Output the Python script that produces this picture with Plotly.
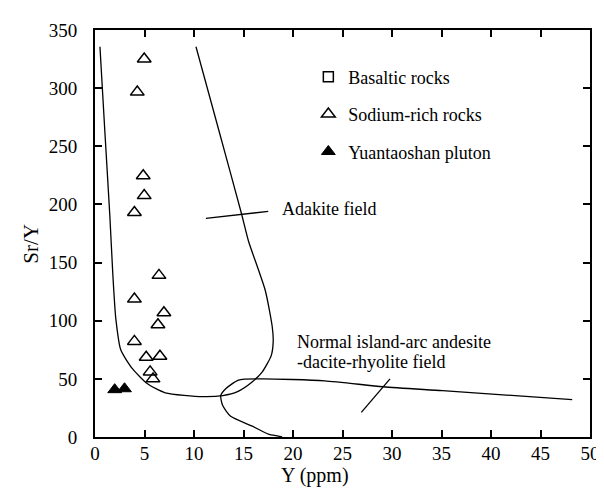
import plotly.graph_objects as go

# ---- data ----
sodium_x = [4.97, 4.27, 4.87, 4.97, 3.98, 6.46, 3.98, 6.96, 6.36, 3.98, 5.17, 6.56, 5.57, 5.86]
sodium_y = [325, 296.6, 224.6, 207.6, 193, 139, 118.6, 106.8, 96.6, 82.2, 68.6, 69.5, 56, 50]

yuan_x = [1.99, 2.98]
yuan_y = [40.7, 41.5]

basalt_x = [None]   # no basaltic samples plotted; legend entry only
basalt_y = [None]

adakite_x = [0.5, 1.0, 1.5, 1.8, 2.1, 2.6, 3.8, 5.3, 7.1, 10.9, 12.9, 14.4, 15.9, 16.9, 17.8, 18.0, 17.9, 17.2, 15.5, 14.8, 12.5, 10.2]
adakite_y = [335.6, 262, 190, 140, 102, 75, 58.5, 45.8, 38, 34.7, 35.6, 39, 47.5, 56, 70, 82, 95, 126, 168.6, 192, 264, 335.6]

arc_x = [48.2, 35.1, 29.1, 23.2, 16.9, 14.5, 13.2, 12.7, 12.9, 13.7, 15.9, 17.5, 18.5, 18.9]
arc_y = [32.2, 39.8, 43.2, 48.3, 50, 49, 41.5, 35.6, 27, 17.8, 9.3, 2.5, 0.8, 0]

adakite_leader_x = [11.2, 17.5]
adakite_leader_y = [188, 194]
arc_leader_x = [26.9, 29.8]
arc_leader_y = [21.2, 50]

x_ticks = list(range(0, 51, 5))
y_ticks = list(range(0, 351, 50))

FONT = "Liberation Serif"

fig = go.Figure()

for lx, ly, shape in [(adakite_x, adakite_y, "spline"), (arc_x, arc_y, "spline"),
                      (adakite_leader_x, adakite_leader_y, "linear"),
                      (arc_leader_x, arc_leader_y, "linear")]:
    fig.add_trace(go.Scatter(x=lx, y=ly, mode="lines",
                             line=dict(color="black", width=1.3, shape=shape, smoothing=0.6),
                             showlegend=False, hoverinfo="skip"))

fig.add_trace(go.Scatter(x=basalt_x, y=basalt_y, mode="markers", name="Basaltic rocks",
                         legendgroup="a",
                         marker=dict(symbol="square-open", size=10, color="black",
                                     line=dict(width=1.5, color="black"))))
fig.add_trace(go.Scatter(x=sodium_x, y=sodium_y, mode="markers", name="Sodium-rich rocks",
                         legendgroup="b",
                         marker=dict(symbol="triangle-up-open", size=12, color="black",
                                     line=dict(width=1.5, color="black"))))
fig.add_trace(go.Scatter(x=yuan_x, y=yuan_y, mode="markers", name="Yuantaoshan pluton",
                         legendgroup="c",
                         marker=dict(symbol="triangle-up", size=12, color="black",
                                     line=dict(width=1, color="black"))))

axis_common = dict(showline=True, linewidth=2, linecolor="black", mirror="ticks",
                   ticks="inside", ticklen=7, tickwidth=1.5, tickcolor="black",
                   showgrid=False, zeroline=False,
                   tickfont=dict(family=FONT, size=19, color="black"))

fig.update_xaxes(range=[0, 50], tickvals=x_ticks, ticklabelstandoff=-2, **axis_common)
fig.update_yaxes(range=[0, 350], tickvals=y_ticks, ticklabelstandoff=12, **axis_common)

annos = [
    dict(text="Adakite field", x=18.7, y=196, xanchor="left", yanchor="middle"),
    dict(text="Normal island-arc andesite", x=20.2, y=81.4, xanchor="left", yanchor="middle"),
    dict(text="-dacite-rhyolite field", x=20.2, y=64.4, xanchor="left", yanchor="middle"),
]
for a in annos:
    fig.add_annotation(xref="x", yref="y", showarrow=False,
                       font=dict(family=FONT, size=18, color="black"), **a)

fig.add_annotation(text="Y (ppm)", xref="paper", yref="paper",
                   x=(310 - 87) / 501, y=-(468 - 429) / 413, xanchor="center", yanchor="middle",
                   showarrow=False, font=dict(family=FONT, size=20, color="black"))
fig.add_annotation(text="Sr/Y", xref="paper", yref="paper", textangle=-90,
                   x=-(87 - 22) / 501, y=(429 - 233) / 413, xanchor="center", yanchor="middle",
                   showarrow=False, font=dict(family=FONT, size=21, color="black"))

fig.update_layout(
    width=604, height=488,
    margin=dict(l=87, r=16, t=16, b=59),
    plot_bgcolor="white", paper_bgcolor="white",
    legend=dict(x=0.431, y=0.93, xanchor="left", yanchor="top",
                bgcolor="rgba(0,0,0,0)", font=dict(family=FONT, size=18, color="black"),
                traceorder="grouped", tracegroupgap=11, itemsizing="trace"),
)

fig.write_html("out.html")
